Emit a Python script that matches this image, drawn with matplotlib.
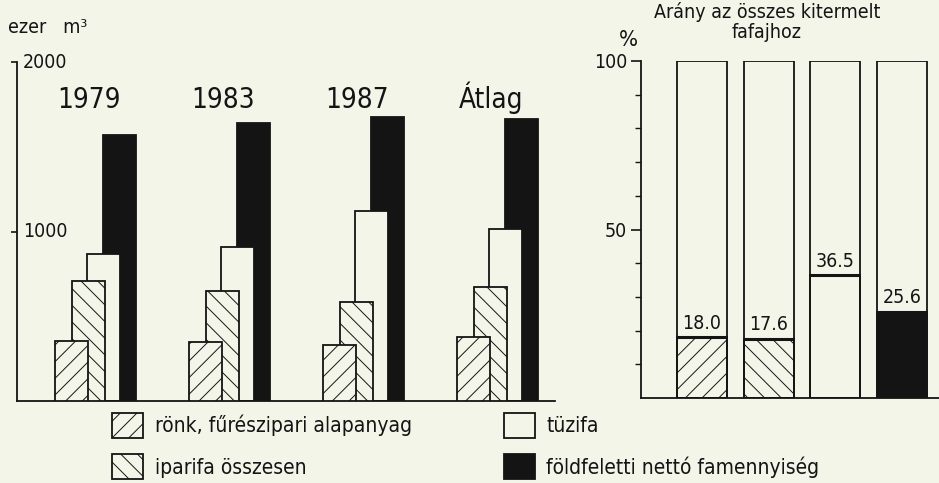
import numpy as np
import matplotlib
matplotlib.use('Agg')
import matplotlib.pyplot as plt

# ezer m3 values per group
years = ['1979', '1983', '1987', 'Átlag']
ronk = [353, 347, 330, 376]
iparifa = [706, 647, 582, 670]
tuzifa = [865, 906, 1118, 1012]
netto = [1570, 1641, 1676, 1665]

# share of all harvested species, %
share_vals = [18.0, 17.6, 36.5, 25.6]
share_labels = ['18.0', '17.6', '36.5', '25.6']

legend_labels = ['rönk, fűrészipari alapanyag', 'iparifa összesen',
                 'tüzifa', 'földfeletti nettó famennyiség']

BG = '#f4f5e9'
INK = '#141414'
plt.rcParams['font.family'] = ['DejaVu Sans']
plt.rcParams['font.stretch'] = 'condensed'
plt.rcParams['hatch.linewidth'] = 0.7

W, H = 939, 483
fig = plt.figure(figsize=(W / 100, H / 100), dpi=100, facecolor=BG)

#
# Left chart: overlapping bars per year.
ax = fig.add_axes([17 / W, 1 - 401 / H, (555 - 17) / W, (401 - 62) / H])
ax.set_facecolor('none')
x = np.arange(len(years))
w = 0.246
ax.bar(x + 0.358, netto, width=w, align='edge', color=INK, edgecolor=INK, lw=1.3, zorder=1)
h_tuz = ax.bar(x + 0.239, tuzifa, width=w, align='edge', color=BG, edgecolor=INK, lw=1.3, zorder=2)
h_ip = ax.bar(x + 0.127, iparifa, width=w, align='edge', color=BG, edgecolor=INK, lw=1.3,
              hatch='\\\\', zorder=3)
h_ro = ax.bar(x, ronk, width=w, align='edge', color=BG, edgecolor=INK, lw=1.3,
              hatch='//', zorder=4)
h_net = ax.patches[0]
for xi, yr in zip(x, years):
    ax.text(xi + 0.255, 1730, yr, ha='center', va='baseline', fontsize=20, color=INK)
ax.set_xlim(-0.284, 3.731)
ax.set_ylim(0, 2000)
ax.set_xticks([])
ax.set_yticks([1000, 2000])
ax.set_yticklabels([])
ax.tick_params(axis='y', direction='out', length=4, width=1.2, color=INK)
for v in [1000, 2000]:
    ax.text(0.011, v, str(v), transform=ax.get_yaxis_transform(), ha='left', va='center',
            fontsize=14, color=INK)
for s in ['top', 'right']:
    ax.spines[s].set_visible(False)
for s in ['left', 'bottom']:
    ax.spines[s].set_linewidth(1.3)
    ax.spines[s].set_color(INK)
fig.text(8 / W, 1 - 33 / H, 'ezer   m³', ha='left', va='baseline', fontsize=14, color=INK)

#
# Right chart: share columns.
ax2 = fig.add_axes([641 / W, 1 - 398 / H, (945 - 641) / W, (398 - 61) / H])
ax2.set_facecolor('none')
bw = 0.75
fills = [BG, BG, BG, INK]
hatches = ['//', '\\\\', None, None]
ax2.bar(x, [100] * len(x), width=bw, color='none', edgecolor=INK, lw=1.3, zorder=2)
for xi, v, fc, ht, lab in zip(x, share_vals, fills, hatches, share_labels):
    ax2.bar(xi, v, width=bw, color=fc, edgecolor=INK, lw=1.3, hatch=ht, zorder=1)
    ax2.hlines(v, xi - bw / 2, xi + bw / 2, color=INK, lw=2.2, zorder=3)
    ax2.annotate(lab, (xi, v), xytext=(0, 6), textcoords='offset points',
                 ha='center', va='baseline', fontsize=14, color=INK)
ax2.set_xlim(-0.916, 3.649)
ax2.set_ylim(0, 100)
ax2.set_xticks([])
ax2.set_yticks([50, 100])
ax2.set_yticks(np.arange(10, 100, 10), minor=True)
ax2.tick_params(axis='y', which='major', direction='out', length=7, width=1.2,
                labelsize=14, color=INK, labelcolor=INK, pad=3)
ax2.tick_params(axis='y', which='minor', direction='out', length=4, width=1.0, color=INK)
for s in ['top', 'right']:
    ax2.spines[s].set_visible(False)
for s in ['left', 'bottom']:
    ax2.spines[s].set_linewidth(1.3)
    ax2.spines[s].set_color(INK)
fig.text(767 / W, 1 - 18 / H, 'Arány az összes kitermelt', ha='center', va='baseline',
         fontsize=14, color=INK)
fig.text(767 / W, 1 - 38 / H, 'fafajhoz', ha='center', va='baseline', fontsize=14, color=INK)
fig.text(628 / W, 1 - 46 / H, '%', ha='center', va='baseline', fontsize=16, color=INK)

#
# Legend.
fig.legend([h_ro[0], h_ip[0], h_tuz[0], h_net], legend_labels, ncol=2,
           loc='upper left', bbox_to_anchor=(112 / W, 1 - 413 / H), frameon=False,
           fontsize=15, handlelength=1.5, handleheight=1.45, handletextpad=0.55,
           labelspacing=0.8, columnspacing=4.4, borderpad=0, borderaxespad=0,
           labelcolor=INK)

fig.savefig('out.png', dpi=100, facecolor=BG)
